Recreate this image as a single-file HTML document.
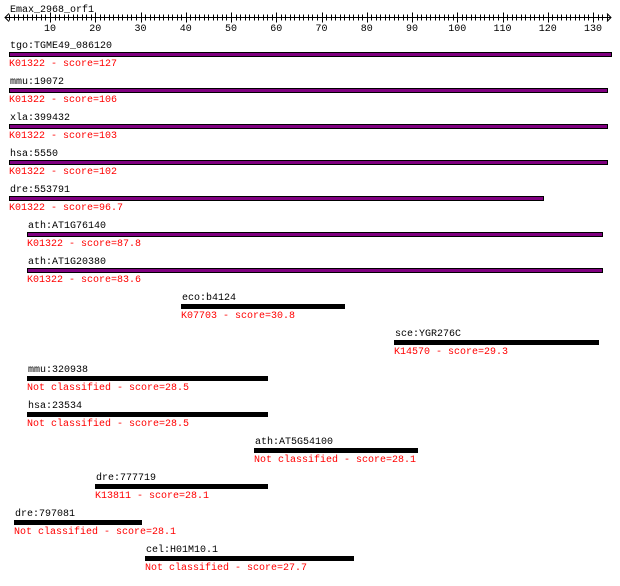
<!DOCTYPE html>
<html><head><meta charset="utf-8"><style>
body{margin:0;background:#fff;}
svg text{font-family:"Liberation Mono","DejaVu Sans Mono",monospace;font-size:10px;}
</style></head><body>
<svg id="chart" width="620" height="581" xmlns="http://www.w3.org/2000/svg">
<text x="10" y="12" fill="#000">Emax_2968_orf1</text>
<g id="axis"></g>
<g id="rows"></g>
</svg>
<script>
const names=["tgo:TGME49_086120","mmu:19072","xla:399432","hsa:5550","dre:553791","ath:AT1G76140","ath:AT1G20380","eco:b4124","sce:YGR276C","mmu:320938","hsa:23534","ath:AT5G54100","dre:777719","dre:797081","cel:H01M10.1"];
const classes=["K01322","K01322","K01322","K01322","K01322","K01322","K01322","K07703","K14570","Not classified","Not classified","Not classified","K13811","Not classified","Not classified"];
const scores=["127","106","103","102","96.7","87.8","83.6","30.8","29.3","28.5","28.5","28.1","28.1","28.1","27.7"];
const starts=[1,1,1,1,1,5,5,39,86,5,5,55,20,2,31];
const ends=[134,133,133,133,119,132,132,75,131,58,58,91,58,30,77];
const tickLabels=[10,20,30,40,50,60,70,80,90,100,110,120,130];
const NS="http://www.w3.org/2000/svg";
const x=v=>4.75+4.525*v;
function mk(tag,attrs,parent){const e=document.createElementNS(NS,tag);for(const k in attrs)e.setAttribute(k,attrs[k]);parent.appendChild(e);return e;}
const axis=document.getElementById('axis');
const ay=17.5;
let l=mk('line',{x1:5,y1:ay,x2:611,y2:ay,stroke:'#000'},axis);


let a1=mk('path',{d:`M9,${ay-4} L5,${ay} L9,${ay+4} M607,${ay-4} L611,${ay} L607,${ay+4}`,stroke:'#000',fill:'none'},axis);


for(let v=1;v<=133;v++){
  const px=Math.round(x(v))+0.5;
  const major=v%10===0;
  const t=mk('line',{x1:px,y1:major?ay-5:ay-3,x2:px,y2:major?ay+5:ay+3,stroke:'#000'},axis);
  
  
}
tickLabels.forEach(v=>{
  const t=mk('text',{x:x(v),y:31,'text-anchor':'middle',fill:'#000'},axis);
  t.textContent=v;
  
  
});
const rows=document.getElementById('rows');
names.forEach((n,i)=>{
  const top=52+36*i;
  const x0=Math.round(x(starts[i])), x1=Math.round(x(ends[i]));
  const g=mk('g',{},rows);
  
  
  const t=mk('text',{x:x0+1,y:top-4,fill:'#000'},g);
  t.textContent=n;
  
  
  const k=classes[i]==="K01322";
  const r=mk('rect',{x:x0+0.5,y:top+0.5,width:x1-x0,height:4,fill:k?'#800080':'#000',stroke:'#000'},g);
  
  
  const s=mk('text',{x:x0,y:top+14,fill:'#f00'},g);
  s.textContent=classes[i]+" - score="+scores[i];
  
  
});
</script>
</body></html>
